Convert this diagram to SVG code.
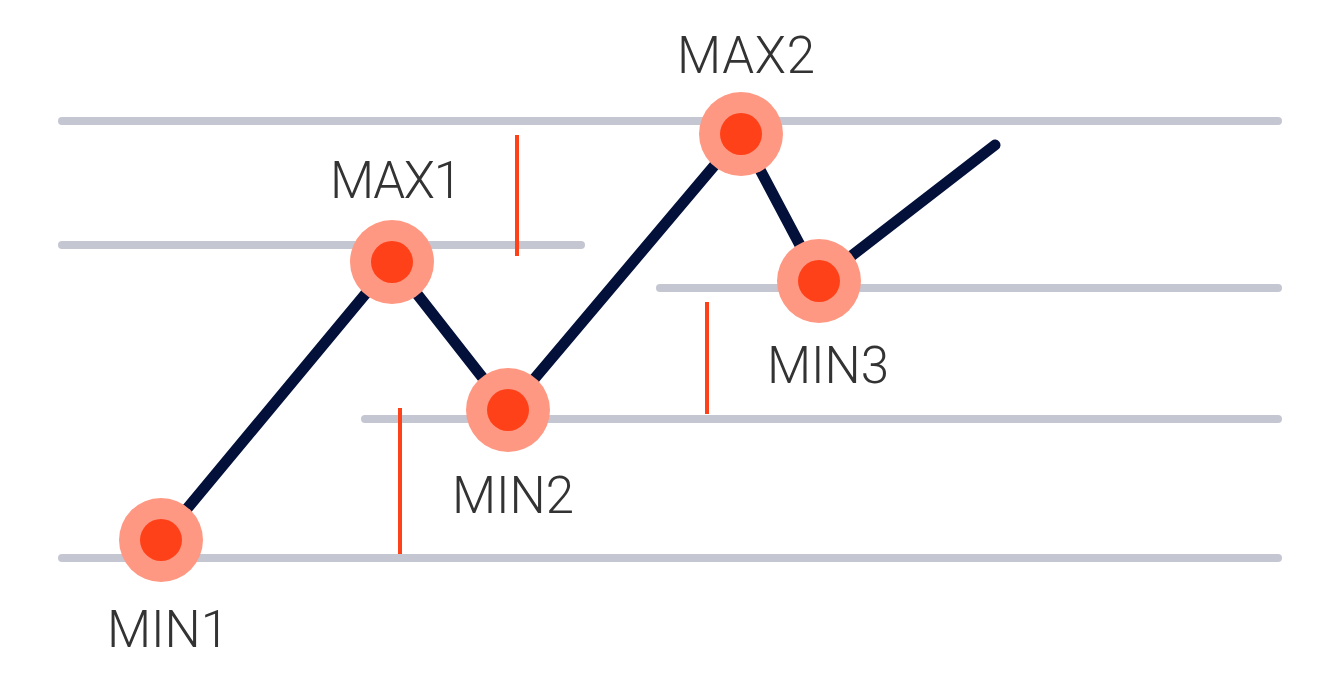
<svg xmlns="http://www.w3.org/2000/svg" width="1337" height="684" viewBox="0 0 1337 684">
<style>
.g{stroke:#c4c6d2;stroke-width:8;stroke-linecap:round;fill:none}
.r{stroke:#ff4119;stroke-width:4;fill:none}
.p{stroke:#03103a;stroke-width:11;stroke-linecap:round;stroke-linejoin:round;fill:none}
.o{fill:#ff9882}
.i{fill:#ff4119}
.t{font-family:Roboto,"Liberation Sans",sans-serif;font-weight:300;font-size:51px;fill:#333333;text-anchor:middle}
</style>
<rect width="1337" height="684" fill="#ffffff"/>
<g id="levels">
<line class="g" x1="62" y1="121" x2="1278" y2="121"/>
<line class="g" x1="62" y1="245" x2="581" y2="245"/>
<line class="g" x1="660" y1="288" x2="1278" y2="288"/>
<line class="g" x1="365" y1="419" x2="1278" y2="419"/>
<line class="g" x1="62" y1="558" x2="1278" y2="558"/>
</g>
<g id="ranges">
<line class="r" x1="517" y1="135" x2="517" y2="256"/>
<line class="r" x1="400" y1="408" x2="400" y2="554"/>
<line class="r" x1="707" y1="302" x2="707" y2="414"/>
</g>
<g id="connectors">
<polyline class="p" points="161,540 392,262 508,410 741,134 819,281 995,145"/>
</g>
<g id="min1"><circle class="o" cx="161" cy="540" r="42"/><circle class="i" cx="161" cy="540" r="21"/><text class="t" x="168" y="647">MIN1</text></g>
<g id="max1"><circle class="o" cx="392" cy="262" r="42"/><circle class="i" cx="392" cy="262" r="21"/><text class="t" x="396" y="198" textLength="132">MAX1</text></g>
<g id="min2"><circle class="o" cx="508" cy="410" r="42"/><circle class="i" cx="508" cy="410" r="21"/><text class="t" x="513" y="513">MIN2</text></g>
<g id="max2"><circle class="o" cx="741" cy="134" r="42"/><circle class="i" cx="741" cy="134" r="21"/><text class="t" x="746" y="73" textLength="138">MAX2</text></g>
<g id="min3"><circle class="o" cx="819" cy="281" r="42"/><circle class="i" cx="819" cy="281" r="21"/><text class="t" x="828" y="383">MIN3</text></g>
</svg>
